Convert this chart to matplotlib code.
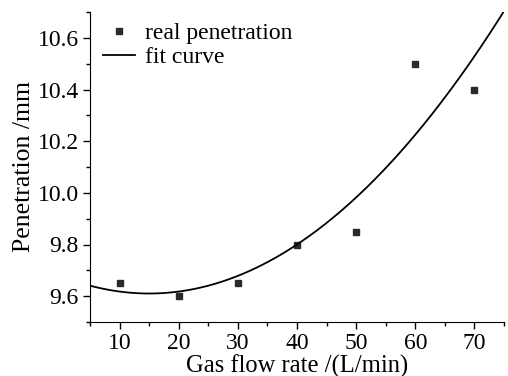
import numpy as np
import matplotlib
matplotlib.use("Agg")
import matplotlib.pyplot as plt
from matplotlib.ticker import MultipleLocator

flow = [10, 20, 30, 40, 50, 60, 70]
penetration = [9.65, 9.60, 9.65, 9.80, 9.85, 10.50, 10.40]
xticks = [10, 20, 30, 40, 50, 60, 70]
yticks = [9.6, 9.8, 10.0, 10.2, 10.4, 10.6]

coef = np.polyfit(flow, penetration, 2)
xf = np.linspace(5, 75, 300)
yf = np.polyval(coef, xf)

plt.rcParams['font.family'] = ['Liberation Serif', 'DejaVu Serif']
fig = plt.figure(figsize=(5.08, 3.76), dpi=100)
ax = fig.add_axes([90/508, 1-322/376, 414/508, 310/376])

ax.plot(flow, penetration, 's', color='#2a2a2a', markersize=4.2, label='real penetration')
ax.plot(xf, yf, '-', color='black', lw=1.3, label='fit curve')

ax.set_xlim(5, 75)
ax.set_ylim(9.5, 10.7)
ax.set_xticks(xticks)
ax.set_yticks(yticks)
ax.set_yticklabels([f"{v:.1f}" for v in yticks])
ax.xaxis.set_minor_locator(MultipleLocator(5))
ax.yaxis.set_minor_locator(MultipleLocator(0.1))
for s in ['top', 'right']:
    ax.spines[s].set_visible(False)
ax.tick_params(which='major', direction='out', length=5, width=1, labelsize=17, pad=3)
ax.tick_params(which='minor', direction='out', length=3, width=1)
ax.set_xlabel('Gas flow rate /(L/min)', fontsize=17.7, labelpad=0)
ax.set_ylabel('Penetration /mm', fontsize=18.5, labelpad=2)
ax.legend(loc='upper left', frameon=False, fontsize=17, handlelength=1.35,
          borderaxespad=0, borderpad=0, handletextpad=0.42, labelspacing=0.08,
          bbox_to_anchor=(13/414, 0.965))
fig.savefig('out.png', dpi=100)
